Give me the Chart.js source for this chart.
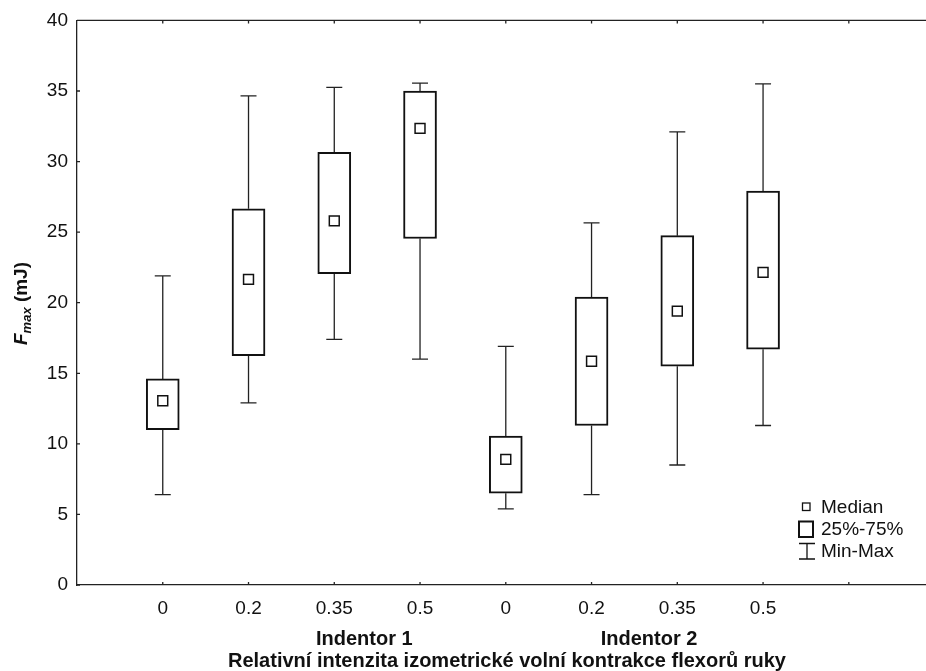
<!DOCTYPE html>
<html>
<head>
<meta charset="utf-8">
<script src="https://cdn.jsdelivr.net/npm/chart.js@4/dist/chart.umd.min.js"></script>
<style>
  body { margin: 0; background: #fff; }
  #wrap { width: 926px; height: 671px; }
</style>
</head>
<body>
<div id="wrap"><canvas id="chart"></canvas></div>
<script>
// Categories: relative contraction intensity, for two indentors
const xLabels = ['0', '0.2', '0.35', '0.5', '0', '0.2', '0.35', '0.5'];
const groupLabels = ['Indentor 1', 'Indentor 2'];
const yTicks = [0, 5, 10, 15, 20, 25, 30, 35, 40];

// Box plot values (mJ)
const mins    = [6.4, 12.9, 17.4, 16.0, 5.4, 6.4, 8.5, 11.3];
const q1s     = [11.0, 16.25, 22.05, 24.55, 6.5, 11.3, 15.5, 16.7];
const medians = [13.05, 21.65, 25.8, 32.35, 8.9, 15.85, 19.4, 22.15];
const q3s     = [14.6, 26.65, 30.65, 35.0, 10.55, 20.4, 24.75, 27.9];
const maxs    = [21.9, 34.65, 35.25, 35.55, 16.9, 25.65, 32.1, 35.5];

const FONT = '"Liberation Sans", Arial, sans-serif';
const INK = '#111';

// Whiskers go behind the boxes
const whiskerPlugin = {
    id: 'whiskers',
    beforeDatasetsDraw(chart) {
        const ctx = chart.ctx;
        const xs = chart.scales.x, ys = chart.scales.y;
        ctx.save();
        ctx.strokeStyle = '#222';
        ctx.lineWidth = 1.3;
        mins.forEach((mn, i) => {
            const x = xs.getPixelForValue(i + 1);
            const yMin = ys.getPixelForValue(mn);
            const yMax = ys.getPixelForValue(maxs[i]);
            ctx.beginPath();
            ctx.moveTo(x, yMax); ctx.lineTo(x, ys.getPixelForValue(q3s[i]));
            ctx.moveTo(x, ys.getPixelForValue(q1s[i])); ctx.lineTo(x, yMin);
            ctx.moveTo(x - 8, yMax); ctx.lineTo(x + 8, yMax);
            ctx.moveTo(x - 8, yMin); ctx.lineTo(x + 8, yMin);
            ctx.stroke();
        });
        ctx.restore();
    }
};

// Frame, inward ticks, axis titles and legend
const framePlugin = {
    id: 'frame',
    afterDraw(chart) {
        const ctx = chart.ctx;
        const a = chart.chartArea;
        const xs = chart.scales.x, ys = chart.scales.y;
        ctx.save();
        ctx.strokeStyle = '#222';
        ctx.lineWidth = 1.3;
        ctx.beginPath();
        ctx.moveTo(a.left, a.top); ctx.lineTo(a.right, a.top);
        for (let v = 1; v <= 9; v++) {
            const x = xs.getPixelForValue(v);
            ctx.moveTo(x, a.top); ctx.lineTo(x, a.top + 3);
            ctx.moveTo(x, a.bottom); ctx.lineTo(x, a.bottom - 3);
        }
        yTicks.forEach(t => {
            const y = ys.getPixelForValue(t);
            ctx.moveTo(a.left, y); ctx.lineTo(a.left + 3, y);
        });
        ctx.stroke();

        // x titles
        ctx.fillStyle = INK;
        ctx.textAlign = 'center';
        ctx.textBaseline = 'alphabetic';
        ctx.font = 'bold 20px ' + FONT;
        ctx.fillText(groupLabels[0], xs.getPixelForValue(3.35), 645);
        ctx.fillText(groupLabels[1], xs.getPixelForValue(6.67), 645);
        ctx.textAlign = 'left';
        ctx.fillText('Relativní intenzita izometrické volní kontrakce flexorů ruky', 228, 667);

        // y title: F_max (mJ)
        ctx.save();
        ctx.translate(27, 303.5);
        ctx.rotate(-Math.PI / 2);
        const fBig = 'italic bold 19px ' + FONT;
        const fSub = 'italic bold 13px ' + FONT;
        const fUnit = 'bold 19px ' + FONT;
        ctx.font = fBig; const w1 = ctx.measureText('F').width;
        ctx.font = fSub; const w2 = ctx.measureText('max').width;
        ctx.font = fUnit; const w3 = ctx.measureText(' (mJ)').width;
        let x0 = -(w1 + w2 + w3) / 2;
        ctx.font = fBig; ctx.fillText('F', x0, 0); x0 += w1;
        ctx.font = fSub; ctx.fillText('max', x0, 4); x0 += w2;
        ctx.font = fUnit; ctx.fillText(' (mJ)', x0, 0);
        ctx.restore();

        // legend
        ctx.strokeStyle = INK;
        ctx.lineWidth = 1.3;
        ctx.strokeRect(802.5, 503, 7.5, 7.5);
        ctx.lineWidth = 2;
        ctx.strokeRect(799, 521.5, 14, 15.5);
        ctx.lineWidth = 1.3;
        ctx.beginPath();
        ctx.moveTo(799, 543.5); ctx.lineTo(815, 543.5);
        ctx.moveTo(807, 543.5); ctx.lineTo(807, 559);
        ctx.moveTo(799, 559); ctx.lineTo(815, 559);
        ctx.stroke();
        ctx.font = '19px ' + FONT;
        ctx.fillText('Median', 821, 512.5);
        ctx.fillText('25%-75%', 821, 535);
        ctx.fillText('Min-Max', 821, 557);
        ctx.restore();
    }
};

const ctx = document.getElementById('chart').getContext('2d');
new Chart(ctx, {
    type: 'bar',
    data: {
        datasets: [
            {
                type: 'scatter',
                label: 'Median',
                data: medians.map((m, i) => ({ x: i + 1, y: m })),
                pointStyle: 'rect',
                pointRadius: 7,
                backgroundColor: '#fff',
                borderColor: INK,
                borderWidth: 1.5
            },
            {
                type: 'bar',
                label: '25%-75%',
                data: q1s.map((q, i) => ({ x: i + 1, y: [q, q3s[i]] })),
                barThickness: 33,
                backgroundColor: '#fff',
                borderColor: INK,
                borderWidth: 2,
                borderSkipped: false
            }
        ]
    },
    options: {
        responsive: true,
        maintainAspectRatio: false,
        animation: false,
        layout: { autoPadding: false, padding: { top: 19, left: 0, right: 0, bottom: 0 } },
        plugins: { legend: { display: false }, tooltip: { enabled: false } },
        scales: {
            x: {
                type: 'linear',
                offset: false,
                min: 0,
                max: 9.9,
                afterBuildTicks: (s) => { s.ticks = [1, 2, 3, 4, 5, 6, 7, 8, 9].map(v => ({ value: v })); },
                afterFit: (s) => { s.height = 86; s.paddingRight = 0; s.paddingLeft = 0; },
                grid: { display: false, drawTicks: false },
                border: { display: true, color: '#222', width: 1.3 },
                ticks: {
                    padding: 12,
                    color: INK,
                    font: { family: FONT, size: 19 },
                    maxRotation: 0,
                    autoSkip: false,
                    callback: (v) => xLabels[v - 1] || ''
                }
            },
            y: {
                min: 0,
                max: 40,
                afterBuildTicks: (s) => { s.ticks = yTicks.map(v => ({ value: v })); },
                afterFit: (s) => { s.width = 77; },
                grid: { display: false, drawTicks: false },
                border: { display: true, color: '#222', width: 1.3 },
                ticks: {
                    padding: 9,
                    color: INK,
                    font: { family: FONT, size: 19 }
                }
            }
        }
    },
    plugins: [whiskerPlugin, framePlugin]
});
</script>
</body>
</html>
